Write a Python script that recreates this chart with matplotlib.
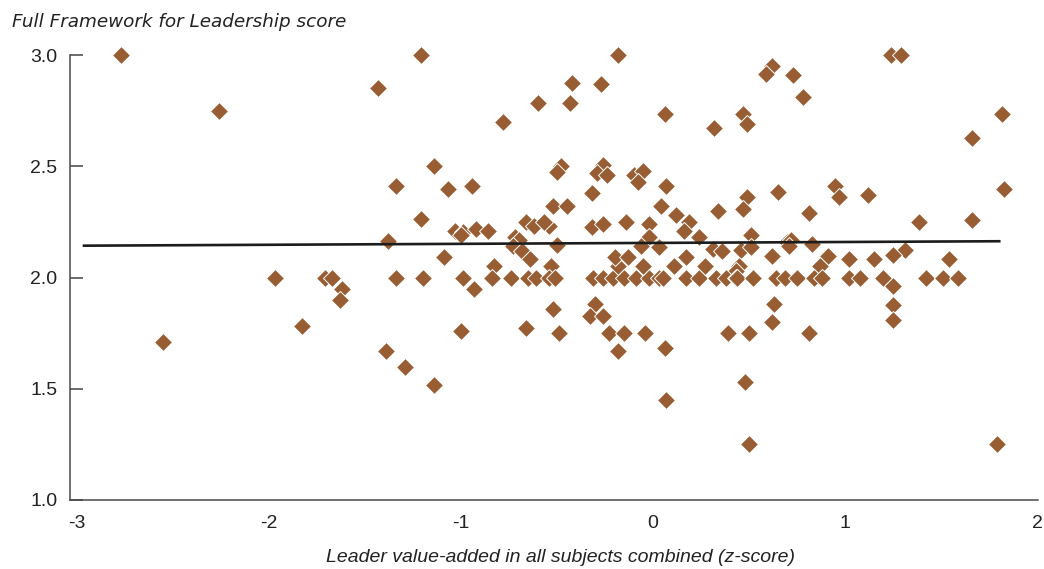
import matplotlib
matplotlib.use("Agg")
import matplotlib.pyplot as plt
import numpy as np

# Leader value-added (z-score) and Full Framework for Leadership score per leader
value_added = [
    -2.77, -2.26, -1.43, -2.55, -1.97, -1.83, -1.71, -1.67, -1.62, -1.63,
    -1.39, -1.29, -1.14, -1.21, -0.60, -0.78, -0.42, -0.43, -0.27, -0.18,
    0.06, -1.14, -1.34, -1.07, -0.94, -1.21, -1.38, -1.09, -0.48, -0.50,
    -0.26, -0.29, -0.24, -0.10, -0.05, -0.08, 0.07, -0.32, -0.52, -0.45,
    0.04, 0.12, 0.19, 0.16, 0.24, -0.14, -0.02, -0.02, -0.06, 0.03,
    -0.32, -0.26, -0.66, -0.62, -0.54, -0.57, -1.03, -0.99, -1.00, -0.92,
    -0.86, -0.72, -0.70, -0.73, -0.68, -0.64, -0.50, -0.83, -0.53,
    -1.34, -1.20, -0.99, -0.93, -0.84, -0.74, -0.65, -0.61, -0.54, -0.51,
    -0.31, -0.26, -0.21, -0.18, -0.15, -0.09, -0.02, 0.03, -0.05, 0.11,
    0.17, 0.24, -0.20, -0.13, 0.17, 0.05,
    -0.52, -0.30, -0.33, -0.26, -1.00, -0.66, -0.49, -0.23, -0.15, -0.04,
    -0.18, 0.06, 0.07,
    0.65, 0.49, 0.47, 0.34, 0.95, 0.97, 0.81, 0.51, 0.31, 0.36,
    0.46, 0.51, 0.70, 0.72, 0.71, 0.83, 0.62, 0.91, 0.87, 1.02,
    0.27, 0.45, 0.43,
    0.33, 0.38, 0.43, 0.44, 0.52, 0.64, 0.69, 0.75, 0.84, 0.88,
    1.02, 1.08, 1.20, 1.42, 1.51, 1.59,
    0.63, 0.62, 0.39, 0.50, 0.81, 0.48, 0.50, 1.79,
    1.24, 1.29, 0.62, 0.59, 0.73, 0.78, 0.47, 0.49, 0.32, 1.82,
    1.66, 1.83, 1.66, 1.385, 1.12, 1.31, 1.25, 1.15, 1.54, 1.25,
    1.25, 1.25,
]
leadership_score = [
    3.00, 2.75, 2.85, 1.71, 2.00, 1.78, 2.00, 2.00, 1.95, 1.90,
    1.67, 1.60, 1.515, 3.00, 2.785, 2.70, 2.875, 2.785, 2.87, 3.00,
    2.735, 2.50, 2.41, 2.40, 2.41, 2.265, 2.165, 2.09, 2.50, 2.475,
    2.505, 2.47, 2.46, 2.46, 2.48, 2.43, 2.41, 2.38, 2.32, 2.32,
    2.32, 2.28, 2.25, 2.21, 2.18, 2.25, 2.24, 2.18, 2.14, 2.135,
    2.225, 2.24, 2.25, 2.23, 2.23, 2.25, 2.21, 2.205, 2.19, 2.22,
    2.21, 2.18, 2.17, 2.14, 2.12, 2.085, 2.145, 2.05, 2.05,
    2.00, 2.00, 2.00, 1.95, 2.00, 2.00, 2.00, 2.00, 2.00, 2.00,
    2.00, 2.00, 2.00, 2.05, 2.00, 2.00, 2.00, 2.00, 2.05, 2.05,
    2.00, 2.00, 2.09, 2.09, 2.09, 2.00,
    1.86, 1.88, 1.825, 1.825, 1.76, 1.775, 1.75, 1.75, 1.75, 1.75,
    1.67, 1.685, 1.45,
    2.385, 2.36, 2.31, 2.30, 2.41, 2.36, 2.29, 2.19, 2.13, 2.12,
    2.125, 2.135, 2.16, 2.17, 2.14, 2.15, 2.095, 2.095, 2.05, 2.085,
    2.05, 2.05, 2.03,
    2.00, 2.00, 2.00, 2.00, 2.00, 2.00, 2.00, 2.00, 2.00, 2.00,
    2.00, 2.00, 2.00, 2.00, 2.00, 2.00,
    1.88, 1.80, 1.75, 1.75, 1.75, 1.53, 1.25, 1.25,
    3.00, 3.00, 2.95, 2.915, 2.91, 2.81, 2.735, 2.69, 2.67, 2.735,
    2.625, 2.40, 2.26, 2.25, 2.37, 2.125, 2.10, 2.085, 2.085, 1.96,
    1.875, 1.81,
]

# Linear trend line end points
trend_x = [-2.97, 1.81]
trend_y = [2.143, 2.163]

x_ticks = [-3, -2, -1, 0, 1, 2]
y_ticks = [1.0, 1.5, 2.0, 2.5, 3.0]

W, H = 1044, 569
fig = plt.figure(figsize=(W / 100, H / 100), dpi=100)
ax = fig.add_axes([70 / W, 1 - 500 / H, (1038 - 70) / W, (500 - 55) / H])

point_color = "#985d33"
ax.plot(value_added, leadership_score, linestyle="none", marker="D",
        markersize=9.3, markerfacecolor=point_color, markeredgecolor="white",
        markeredgewidth=0.7, clip_on=False, zorder=3)
ax.plot(trend_x, trend_y, color="#1c1c1c", linewidth=1.9, zorder=4,
        solid_capstyle="butt")

ax.set_xlim(-3.036, 2.005)
ax.set_ylim(1.0, 3.0)
ax.set_xticks(x_ticks)
ax.set_xticklabels([str(t) for t in x_ticks])
ax.set_yticks(y_ticks)
ax.set_yticklabels([f"{t:.1f}" for t in y_ticks])

for lab in ax.get_xticklabels() + ax.get_yticklabels():
    lab.set_fontfamily("Liberation Sans")
    lab.set_fontsize(14)
    lab.set_color("#222222")

ax.tick_params(axis="x", length=0, pad=11)
ax.tick_params(axis="y", direction="in", length=9.5, width=1.1,
               color="#444444", pad=9)

for side in ("top", "right"):
    ax.spines[side].set_visible(False)
for side in ("left", "bottom"):
    ax.spines[side].set_color("#4a4a4a")
    ax.spines[side].set_linewidth(1.1)

fig.text(12 / W, 1 - 22 / H, "Full Framework for Leadership score",
         fontsize=13.2, style="italic", family="DejaVu Sans",
         color="#222222", ha="left", va="center")
fig.text(560 / W, 1 - 558 / H,
         "Leader value-added in all subjects combined (z-score)",
         fontsize=14, style="italic", family="Liberation Sans",
         color="#222222", ha="center", va="center")

fig.savefig("out.png", dpi=100)
